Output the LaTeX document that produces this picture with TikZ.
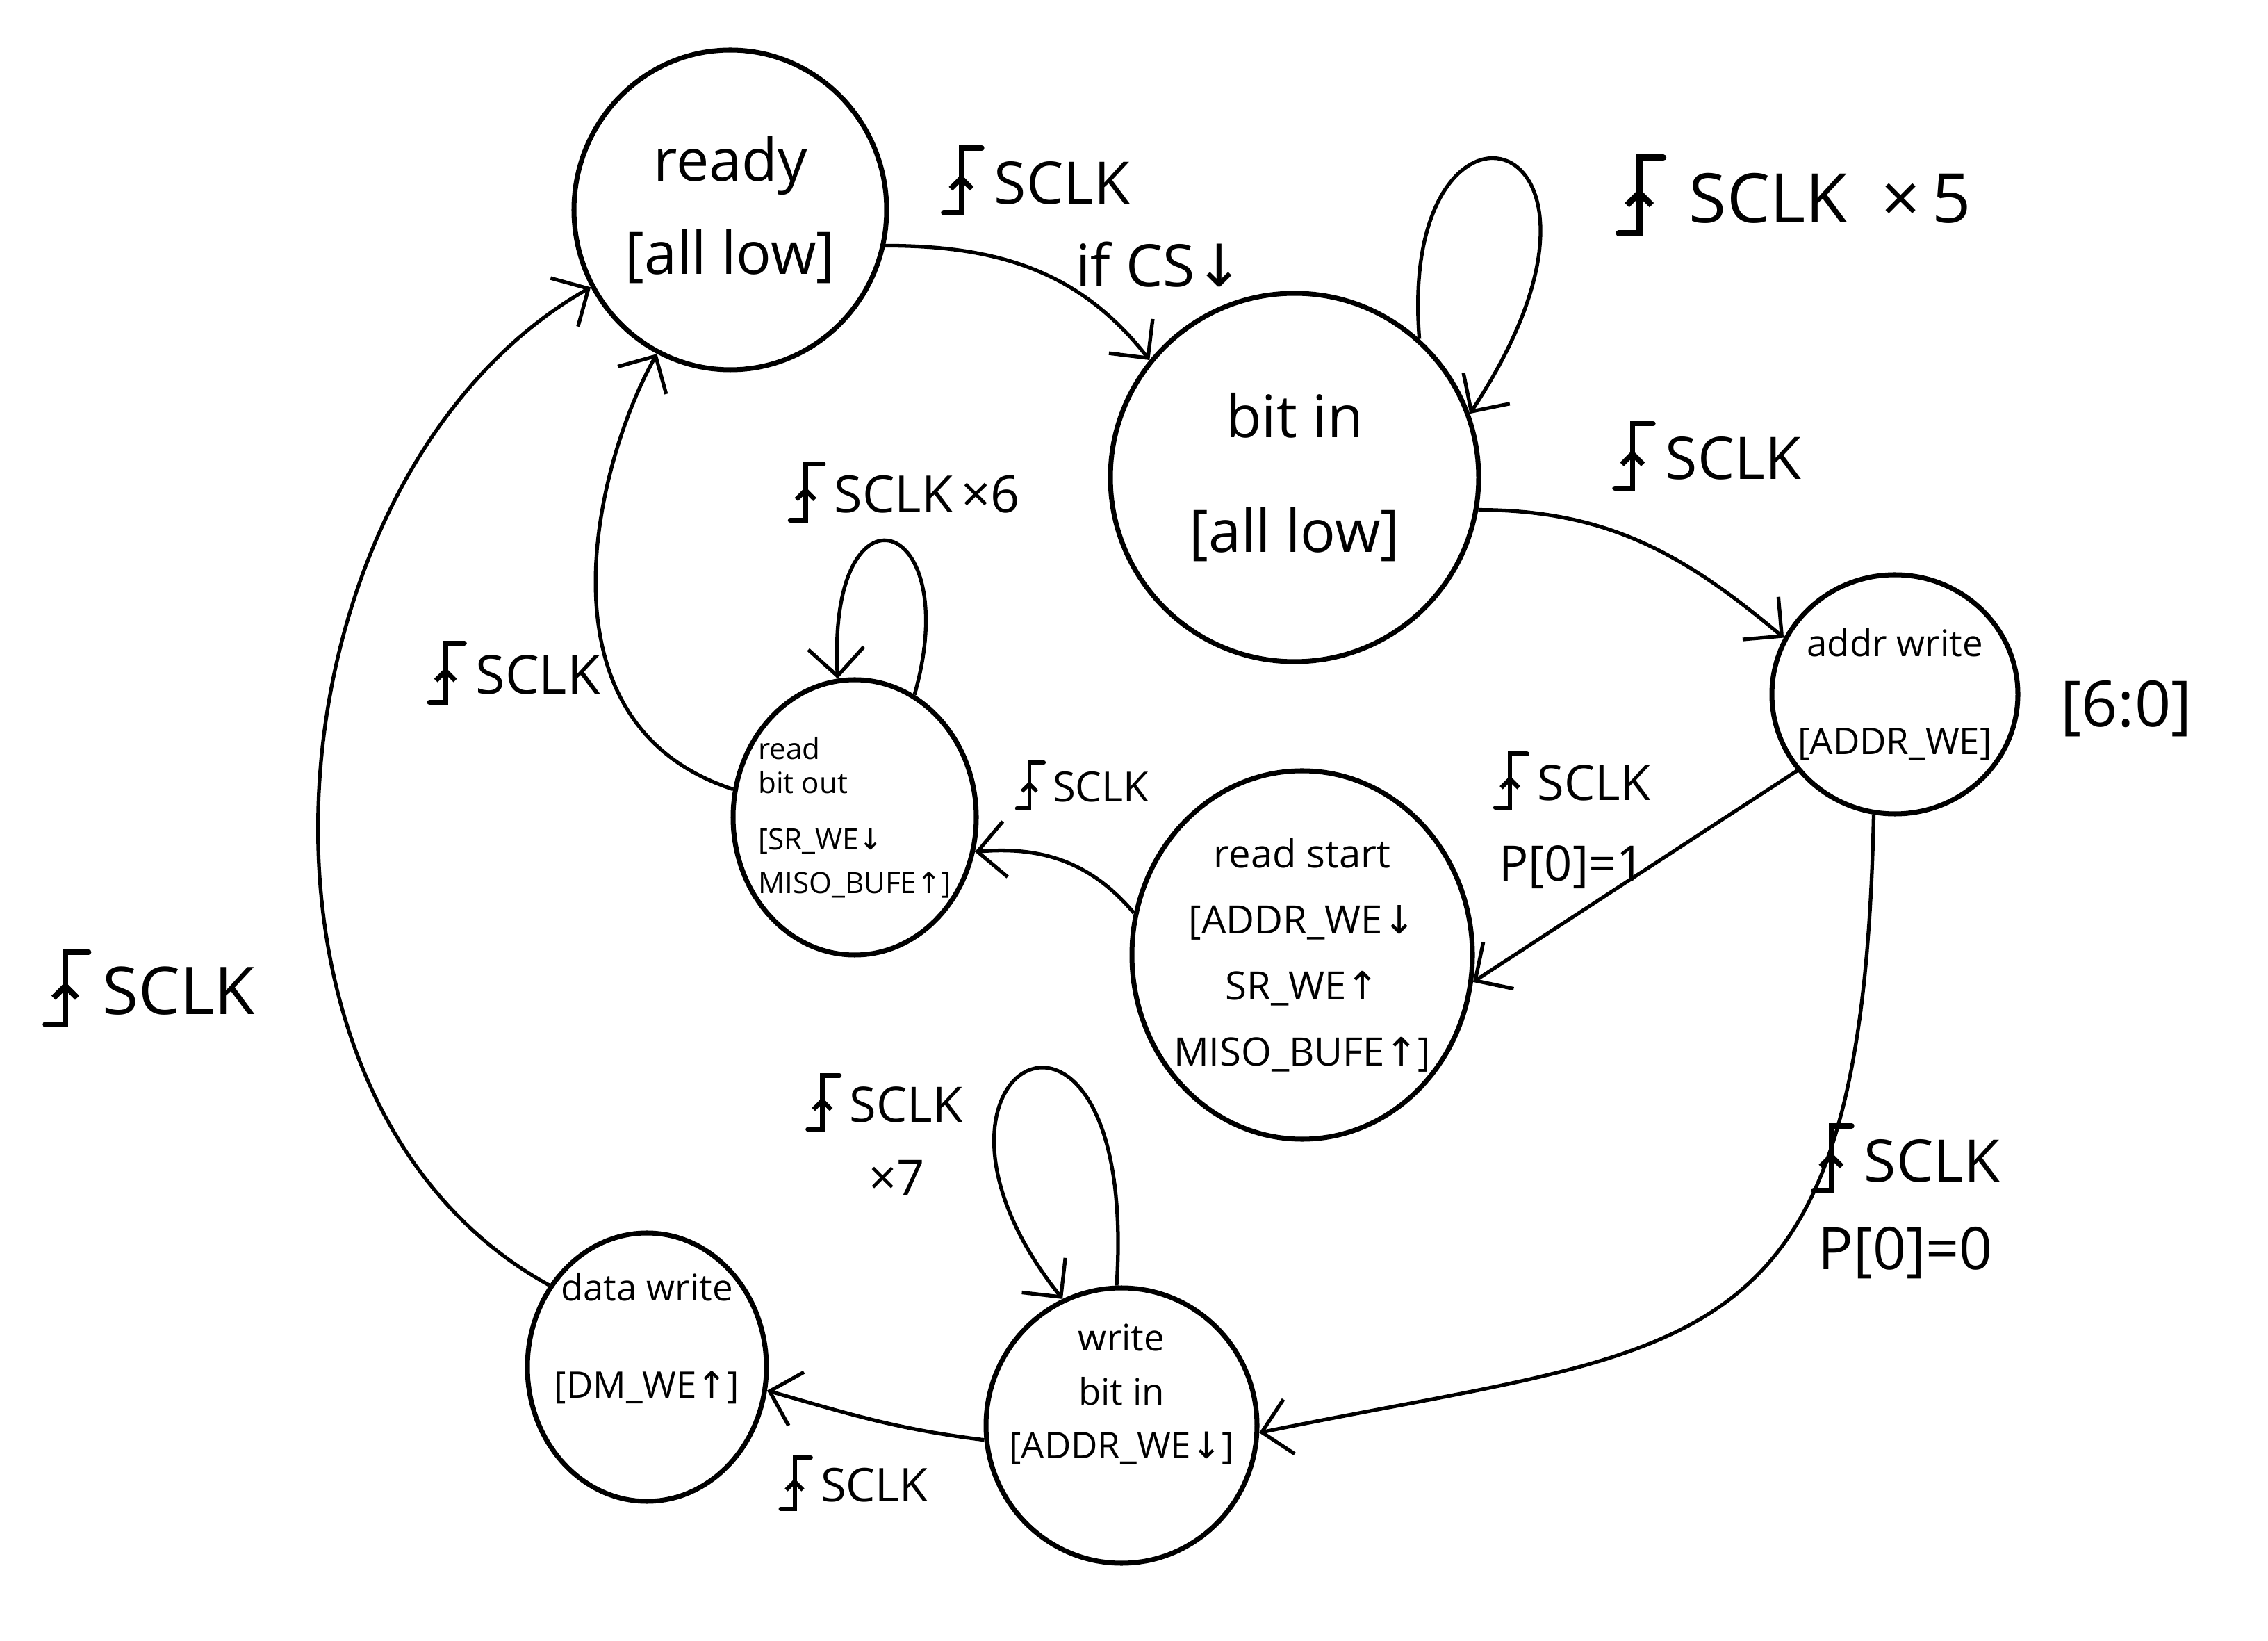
\documentclass[tikz,border=0pt]{standalone}
\usepackage{fontspec}
\setmainfont{Open Sans}
\newfontfamily\arrfont{DejaVu Sans}
\usepackage{tikz}
\usetikzlibrary{shapes,arrows.meta,positioning,calc}

\newcommand{\sigup}{{\arrfont ↑}}
\newcommand{\sigdn}{{\arrfont ↓}}
% rising edge mark
\newcommand{\redge}{\tikz[baseline=0pt, x=1em, y=1em, line width=0.09em, line cap=round]{%
	\draw (-0.3,-0.15) -- (0,-0.15) -- (0,0.95) -- (0.35,0.95);
	\draw[-{Straight Barb[length=0.18em,width=0.36em]}] (0,-0.1) -- (0,0.5);}\,}

\tikzset{
	state/.style = {
		draw, 
		ellipse, 
		line width=2pt, 
		align=center, 
		inner sep=-1.5cm
	},
	trans/.style = {
		-{Straight Barb[length=4mm,width=8mm]}, 
		line width=1.5pt
	},
	cond/.style = {
		align=center, 
		inner sep=1pt
	}
}

\begin{document}
\begin{tikzpicture}
		
		\useasboundingbox (0,0) rectangle (32.64,23.60);
		
		% --- Estados ---
		\node [state, minimum width=4.5cm, minimum height=4.6cm, font=\fontsize{24}{38}\selectfont] (ready) at (10.51,20.58) {ready\\{[}all low]};
		
		\node [state, minimum width=5.3cm, minimum height=5.3cm, font=\fontsize{24}{47}\selectfont] (bitin) at (18.63,16.73) {bit in\\{[}all low]};
		
		\node [state, minimum width=3.54cm, minimum height=3.44cm, font=\fontsize{15}{40}\selectfont] (addr) at (27.27,13.61) {addr write\\{[}ADDR\_WE]};
		
		\node [state, minimum width=3.5cm, minimum height=3.96cm, align=left, font=\fontsize{12}{14}\selectfont] (rbo) at (12.30,11.84) {read\\bit out\\[9pt]{[}SR\_WE\sigdn\\[4pt]MISO\_BUFE\sigup]};
		
		\node [state, minimum width=4.9cm, minimum height=5.3cm, font=\fontsize{16}{27}\selectfont] (rstart) at (18.74,9.86) {read start\\{[}ADDR\_WE\sigdn\\SR\_WE\sigup\\MISO\_BUFE\sigup]};
		
		\node [state, minimum width=3.9cm, minimum height=3.96cm, font=\fontsize{15}{22}\selectfont] (wbi) at (16.14,3.09) {write\\bit in\\{[}ADDR\_WE\sigdn]\\[6pt]\mbox{}};
		
		\node [state, minimum width=3.44cm, minimum height=3.86cm, font=\fontsize{15}{40}\selectfont] (dw) at (9.31,3.93) {data write\\{[}DM\_WE\sigup]\\[-14pt]\mbox{}};
		
		% --- Transiciones ---
		\draw [trans] (ready.-13) to[out=0, in=128] (bitin.141);
		\draw [trans] (bitin.48) .. controls (20.1,22.8) and (23.9,21.8) .. (bitin.20);
		\draw [trans] (bitin.-10) to[out=0, in=140] (addr.153);
		\draw [trans] (addr.218) -- (rstart.-9);
		\draw [trans] (addr.260) .. controls (26.8,3.8) and (24.5,4.3) .. (wbi.-3);
		\draw [trans] (rstart.166) to[out=130, in=5] (rbo.-16);
		\draw [trans] (rbo.64) .. controls (13.9,16.2) and (11.9,16.8) .. (rbo.97);
		\draw [trans] (rbo.167) .. controls (7.6,13.2) and (8.6,17.0) .. (ready.243);
		\draw [trans] (wbi.92) .. controls (16.4,10.2) and (12.6,8.3) .. (wbi.115);
		\draw [trans] (wbi.186) to[out=173, in=-16] (dw.-11);
		\draw [trans] (dw.140) .. controls (3.0,7.8) and (3.8,16.8) .. (ready.209);
		
		% --- Condiciones ---
		\node [cond, align=left, anchor=north west, font=\fontsize{24}{34}\selectfont] (c1) at (13.5,21.55) {\redge SCLK\\\hspace*{2.3em}if CS\sigdn};
		\node [cond, font=\fontsize{28}{34}\selectfont] (c2) at (25.81,20.79) {\redge\,SCLK\enspace×\,5};
		\node [cond, font=\fontsize{24}{30}\selectfont] (c3) at (24.56,17.04) {\redge SCLK};
		\node [cond, font=\fontsize{20}{33}\selectfont] (c4) at (22.62,11.80) {\redge SCLK\\P[0]=1};
		\node [cond, font=\fontsize{24}{36}\selectfont] (c5) at (27.42,6.32) {\redge SCLK\\P[0]=0};
		\node [cond, font=\fontsize{26}{30}\selectfont] (c6) at (30.6,13.4) {[6:0]};
		\node [cond, font=\fontsize{17}{22}\selectfont] (c7) at (15.57,12.30) {\redge SCLK};
		\node [cond, font=\fontsize{21}{26}\selectfont] (c8) at (13.01,16.52) {\redge SCLK\,×6};
		\node [cond, font=\fontsize{22}{26}\selectfont] (c9) at (7.39,13.92) {\redge SCLK};
		\node [cond, align=left, anchor=north west, font=\fontsize{20}{30}\selectfont] (c10) at (11.55,8.20) {\redge SCLK\\\hspace*{1.3em}×7};
		\node [cond, font=\fontsize{19}{24}\selectfont] (c11) at (12.28,2.26) {\redge SCLK};
		\node [cond, font=\fontsize{27}{32}\selectfont] (c12) at (2.14,9.38) {\redge SCLK};
		
\end{tikzpicture}
\end{document}
